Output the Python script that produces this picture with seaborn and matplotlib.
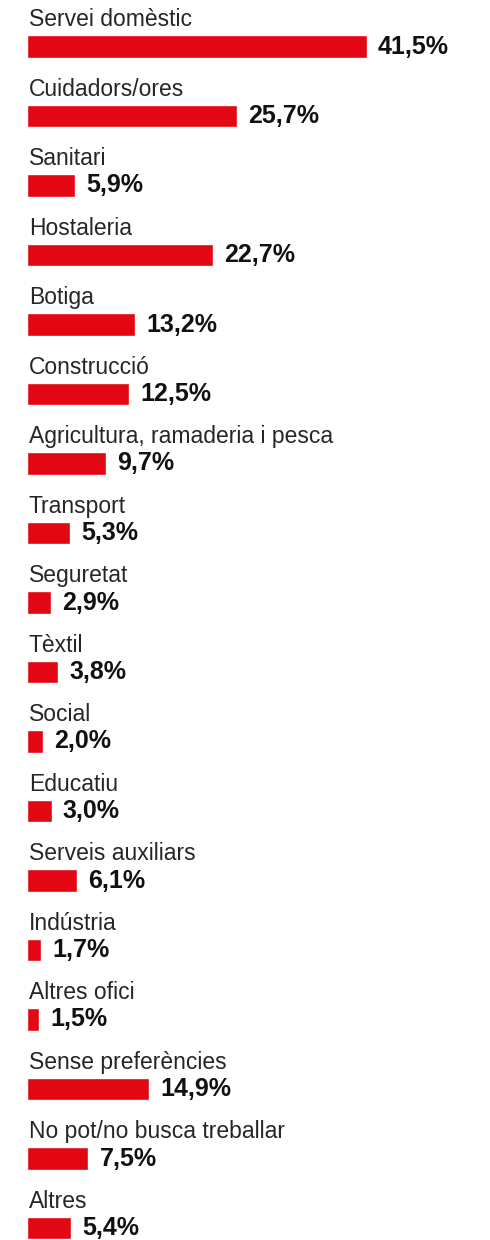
import matplotlib
matplotlib.use("Agg")
import matplotlib.pyplot as plt
import seaborn as sns
import pandas as pd

categories = [
    "Servei domèstic", "Cuidadors/ores", "Sanitari", "Hostaleria", "Botiga",
    "Construcció", "Agricultura, ramaderia i pesca", "Transport", "Seguretat",
    "Tèxtil", "Social", "Educatiu", "Serveis auxiliars", "Indústria",
    "Altres ofici", "Sense preferències", "No pot/no busca treballar", "Altres",
]
values = [41.5, 25.7, 5.9, 22.7, 13.2, 12.5, 9.7, 5.3, 2.9,
          3.8, 2.0, 3.0, 6.1, 1.7, 1.5, 14.9, 7.5, 5.4]

df = pd.DataFrame({"cat": categories, "val": values})

sns.set_theme(style="white")
plt.rcParams["font.family"] = ["Liberation Sans", "DejaVu Sans"]

fig = plt.figure(figsize=(4.9, 12.4), dpi=100)
ax = fig.add_axes([0, 0, 1, 1])

red = "#E30613"
sns.barplot(data=df, y="cat", x="val", orient="h", color=red,
            saturation=1, width=0.33, ax=ax)

for i, (c, v) in enumerate(zip(categories, values)):
    ax.text(0.2, i - 0.29, c, ha="left", va="baseline",
            fontsize=16.5, color="#262626")
    ax.annotate(f"{v:.1f}%".replace(".", ","), xy=(v, i), xytext=(8, 0),
                textcoords="offset points", ha="left", va="center",
                fontsize=18, fontweight="bold", color="#111111")

# pixel mapping: bar start at 27px, ~8.19 px per %, rows 69.5 px apart
ax.set_xlim(-27 / 8.19, (490 - 27) / 8.19)
ax.set_ylim((1240 - 46.5) / 69.5, -46.5 / 69.5)
ax.set_axis_off()

fig.savefig("out.png", dpi=100)
